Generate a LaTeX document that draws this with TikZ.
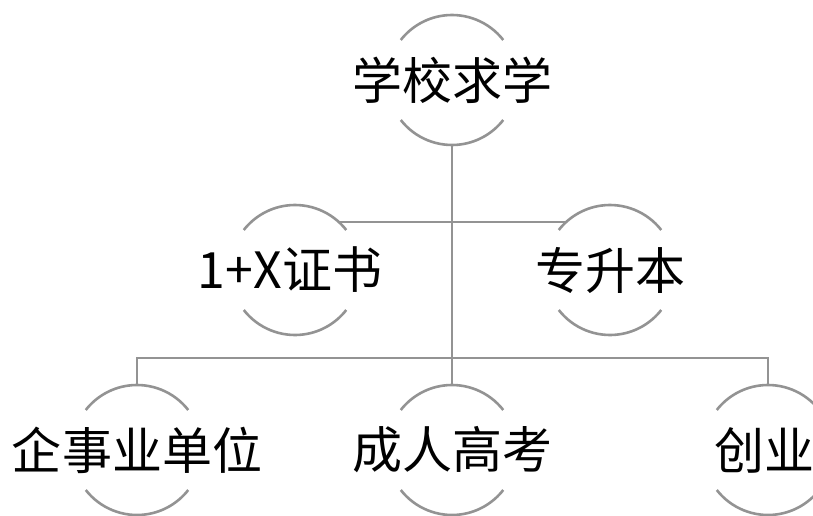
\documentclass[tikz,border=0pt]{standalone}
\usepackage{fontspec}
\setmainfont{Noto Sans CJK SC}
\usepackage{tikz}
\usetikzlibrary{positioning,calc}

\begin{document}
\begin{tikzpicture}[
  x=1pt, y=1pt,
  item/.style={inner sep=0pt, font=\fontsize{50}{60}\selectfont},
  ring/.style={draw=gray!85, line width=2.6pt},
  link/.style={draw=gray!85, line width=2.6pt}
]
\useasboundingbox (0,0) rectangle (813,515);
\clip (0,0) rectangle (813,515);

% Level 0
\node[item] (school) at (452,435) {学校求学};

% Level 1
\node[item] (cert) at (290,245) {1+X证书};
\node[item] (upgrade) at (610,245) {专升本};

% Level 2
\node[item] (work) at (137,65) {企事业单位};
\node[item] (exam) at (452,65) {成人高考};
\node[item] (startup) at (764,65) {创业};

% Rings
\foreach \c/\x in {school/452,cert/295,upgrade/610,work/137,exam/452,startup/768} {
  \draw[ring] ($(\c.center -| \x,0)+(38:65)$) arc[start angle=38, end angle=142, radius=65];
  \draw[ring] ($(\c.center -| \x,0)+(218:65)$) arc[start angle=218, end angle=322, radius=65];
}

% Connectors
\coordinate (bus) at (452,157);
\draw[link] ($(school.center)+(0,-65)$) -- ($(exam.center)+(0,65)$);
\draw[link] ($(cert.center -| 295,0)+(47.6:65)$) -- ($(upgrade.center)+(132.4:65)$);
\draw[link] ($(work.center)+(0,65)$) |- (bus) -| ($(startup.center -| 768,0)+(0,65)$);

\end{tikzpicture}
\end{document}
